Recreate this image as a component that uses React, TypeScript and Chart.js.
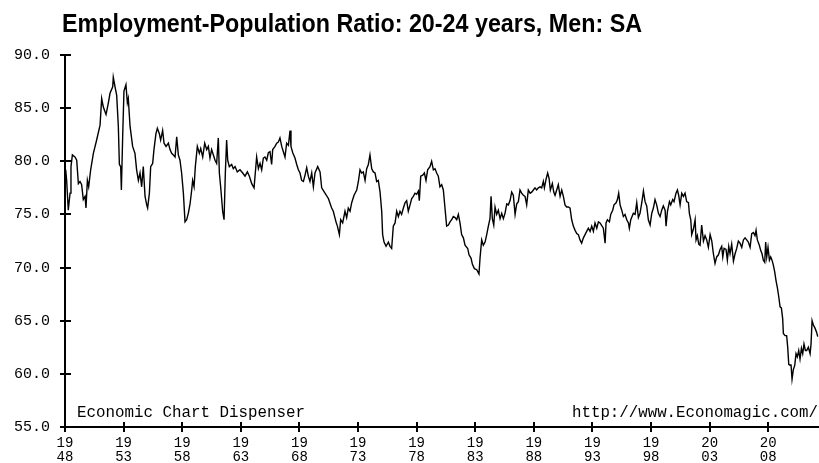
import React, { useEffect, useRef } from "react";
import { Chart, registerables } from "chart.js";

Chart.register(...registerables);

const chartTitle = "Employment-Population Ratio: 20-24 years, Men: SA";
const leftNote = "Economic Chart Dispenser";
const rightNote = "http://www.Economagic.com/";

const yTickValues = [55, 60, 65, 70, 75, 80, 85, 90];
const xTickYears = [1948, 1953, 1958, 1963, 1968, 1973, 1978, 1983, 1988, 1993, 1998, 2003, 2008];

// decimal year of each observation
const years = [
  1948.06, 1948.14, 1948.28, 1948.43, 1948.51, 1948.63, 1948.85, 1949.0, 1949.14, 1949.28,
  1949.42, 1949.56, 1949.71, 1949.79, 1949.91, 1950.02, 1950.19, 1950.42, 1950.7, 1950.99,
  1951.13, 1951.27, 1951.5, 1951.7, 1951.84, 1952.07, 1952.12, 1952.27, 1952.41, 1952.55,
  1952.64, 1952.75, 1952.81, 1952.92, 1953.03, 1953.2, 1953.32, 1953.4, 1953.55, 1953.77,
  1953.97, 1954.11, 1954.26, 1954.4, 1954.54, 1954.68, 1954.83, 1954.97, 1955.05, 1955.2,
  1955.31, 1955.48, 1955.59, 1955.76, 1955.88, 1956.05, 1956.16, 1956.33, 1956.45, 1956.62,
  1956.82, 1956.96, 1957.1, 1957.24, 1957.39, 1957.53, 1957.67, 1957.81, 1957.95, 1958.1,
  1958.24, 1958.38, 1958.52, 1958.67, 1958.81, 1958.89, 1959.01, 1959.12, 1959.29, 1959.46,
  1959.58, 1959.75, 1959.92, 1960.09, 1960.23, 1960.37, 1960.51, 1960.66, 1960.8, 1960.94,
  1961.08, 1961.17, 1961.28, 1961.37, 1961.45, 1961.57, 1961.68, 1961.79, 1961.88, 1962.02,
  1962.22, 1962.36, 1962.51, 1962.7, 1962.93, 1963.16, 1963.36, 1963.56, 1963.73, 1963.93,
  1964.13, 1964.35, 1964.5, 1964.64, 1964.78, 1964.92, 1965.06, 1965.21, 1965.35, 1965.49,
  1965.63, 1965.72, 1965.92, 1966.06, 1966.2, 1966.34, 1966.49, 1966.63, 1966.77, 1966.91,
  1967.06, 1967.2, 1967.28, 1967.43, 1967.62, 1967.77, 1967.91, 1968.05, 1968.19, 1968.34,
  1968.48, 1968.62, 1968.76, 1968.9, 1969.05, 1969.19, 1969.33, 1969.56, 1969.76, 1969.9,
  1970.18, 1970.47, 1970.75, 1970.89, 1971.12, 1971.24, 1971.41, 1971.52, 1971.69, 1971.89,
  1972.03, 1972.17, 1972.32, 1972.46, 1972.66, 1972.89, 1973.03, 1973.17, 1973.31, 1973.45,
  1973.6, 1973.74, 1973.88, 1974.02, 1974.17, 1974.31, 1974.45, 1974.59, 1974.73, 1974.88,
  1975.02, 1975.1, 1975.22, 1975.39, 1975.59, 1975.73, 1975.87, 1976.01, 1976.16, 1976.3,
  1976.44, 1976.58, 1976.72, 1976.87, 1977.01, 1977.15, 1977.29, 1977.44, 1977.58, 1977.72,
  1977.86, 1978.0, 1978.15, 1978.23, 1978.35, 1978.52, 1978.66, 1978.8, 1978.94, 1979.14,
  1979.28, 1979.43, 1979.57, 1979.71, 1979.85, 1979.99, 1980.14, 1980.28, 1980.42, 1980.56,
  1980.71, 1980.85, 1980.99, 1981.13, 1981.28, 1981.42, 1981.56, 1981.7, 1981.84, 1981.99,
  1982.13, 1982.36, 1982.47, 1982.64, 1982.76, 1982.93, 1983.13, 1983.32, 1983.41, 1983.55,
  1983.69, 1983.84, 1983.98, 1984.12, 1984.26, 1984.35, 1984.46, 1984.58, 1984.69, 1984.83,
  1984.97, 1985.12, 1985.26, 1985.4, 1985.54, 1985.69, 1985.83, 1985.97, 1986.11, 1986.25,
  1986.4, 1986.54, 1986.68, 1986.82, 1986.96, 1987.11, 1987.25, 1987.39, 1987.53, 1987.68,
  1987.82, 1987.96, 1988.1, 1988.24, 1988.39, 1988.53, 1988.67, 1988.81, 1988.9, 1989.04,
  1989.18, 1989.3, 1989.41, 1989.58, 1989.7, 1989.81, 1989.95, 1990.09, 1990.24, 1990.38,
  1990.52, 1990.66, 1990.8, 1990.95, 1991.09, 1991.23, 1991.37, 1991.52, 1991.66, 1991.8,
  1991.94, 1992.08, 1992.23, 1992.37, 1992.51, 1992.65, 1992.8, 1992.94, 1993.08, 1993.22,
  1993.37, 1993.51, 1993.65, 1993.93, 1994.08, 1994.16, 1994.28, 1994.45, 1994.56, 1994.73,
  1994.84, 1995.02, 1995.13, 1995.24, 1995.36, 1995.5, 1995.64, 1995.78, 1995.93, 1996.07,
  1996.15, 1996.27, 1996.38, 1996.49, 1996.64, 1996.78, 1996.92, 1997.06, 1997.21, 1997.35,
  1997.49, 1997.63, 1997.77, 1997.92, 1998.06, 1998.2, 1998.34, 1998.48, 1998.63, 1998.77,
  1998.91, 1999.05, 1999.2, 1999.28, 1999.4, 1999.57, 1999.68, 1999.85, 1999.96, 2000.13,
  2000.25, 2000.36, 2000.48, 2000.62, 2000.76, 2000.9, 2001.04, 2001.19, 2001.27, 2001.39,
  2001.47, 2001.61, 2001.76, 2001.84, 2001.95, 2002.07, 2002.18, 2002.32, 2002.47, 2002.61,
  2002.75, 2002.89, 2003.04, 2003.18, 2003.32, 2003.46, 2003.6, 2003.75, 2003.89, 2004.03,
  2004.12, 2004.23, 2004.4, 2004.51, 2004.63, 2004.74, 2004.88, 2005.03, 2005.17, 2005.31,
  2005.45, 2005.59, 2005.74, 2005.88, 2006.02, 2006.16, 2006.3, 2006.45, 2006.59, 2006.73,
  2006.87, 2006.96, 2007.07, 2007.24, 2007.36, 2007.47, 2007.58, 2007.7, 2007.78, 2007.87,
  2007.98, 2008.1, 2008.21, 2008.32, 2008.44, 2008.55, 2008.66, 2008.78, 2008.89, 2009.01,
  2009.12, 2009.23, 2009.29, 2009.43, 2009.57, 2009.66, 2009.75, 2009.86, 2009.94, 2010.03,
  2010.14, 2010.26, 2010.37, 2010.48, 2010.6, 2010.71, 2010.83, 2010.94, 2011.05, 2011.17,
  2011.28, 2011.42, 2011.57, 2011.65, 2011.74, 2011.85, 2011.99, 2012.13, 2012.22,
];

// employment-population ratio, percent
const ratios = [
  79.2, 78.2, 75.4, 77.0, 79.5, 80.6, 80.4, 80.1, 77.9, 78.1,
  77.8, 76.4, 76.7, 75.6, 78.2, 77.6, 79.2, 80.75, 82.0, 83.4,
  85.9, 85.1, 84.4, 85.5, 86.4, 87.0, 87.9, 87.0, 86.2, 83.3,
  79.7, 79.5, 77.3, 82.3, 86.6, 87.2, 85.5, 85.9, 83.3, 81.4,
  80.75, 79.2, 78.2, 78.9, 77.6, 79.5, 76.7, 75.9, 75.6, 77.0,
  79.5, 79.8, 81.1, 82.6, 83.1, 82.6, 82.0, 82.9, 81.7, 81.4,
  81.7, 81.1, 80.75, 80.6, 80.4, 82.3, 80.6, 80.1, 78.9, 77.0,
  74.3, 74.5, 75.1, 76.0, 77.3, 78.2, 77.6, 79.5, 81.4, 80.75,
  81.2, 80.4, 81.7, 81.1, 81.4, 80.3, 81.1, 80.6, 80.1, 79.8,
  82.2, 78.9, 77.6, 76.4, 75.3, 74.5, 78.9, 82.0, 80.1, 79.5,
  79.7, 79.3, 79.5, 79.0, 79.2, 78.9, 78.6, 79.0, 78.6, 77.9,
  77.5, 80.4, 79.3, 79.8, 79.2, 80.3, 80.4, 80.1, 80.8, 80.9,
  79.7, 81.1, 81.4, 81.7, 81.8, 82.2, 81.4, 80.9, 80.4, 81.7,
  81.5, 82.9, 81.4, 80.8, 80.3, 79.7, 79.2, 78.9, 78.2, 78.1,
  78.7, 79.4, 78.6, 78.1, 78.9, 77.6, 78.9, 79.5, 79.0, 77.5,
  77.0, 76.5, 75.6, 75.3, 74.3, 73.9, 73.1, 74.5, 74.2, 75.3,
  74.7, 75.6, 75.3, 76.1, 76.8, 77.3, 78.1, 79.2, 78.9, 79.0,
  78.2, 79.3, 79.7, 80.6, 79.3, 79.0, 78.9, 78.1, 78.2, 77.1,
  75.3, 73.1, 72.4, 72.0, 72.4, 72.0, 71.8, 73.9, 74.2, 75.3,
  74.8, 75.3, 75.0, 75.6, 76.1, 76.3, 75.3, 75.9, 76.5, 76.7,
  77.0, 76.9, 77.2, 76.3, 78.6, 78.7, 78.9, 78.2, 79.2, 79.5,
  80.0, 79.2, 79.3, 78.9, 78.6, 77.6, 77.8, 77.3, 75.6, 73.9,
  74.0, 74.3, 74.5, 74.8, 74.7, 74.5, 75.0, 74.2, 73.1, 72.8,
  72.1, 71.8, 71.2, 70.9, 70.3, 69.9, 69.8, 69.4, 70.9, 72.6,
  72.1, 72.4, 73.1, 73.9, 74.6, 76.7, 74.6, 74.0, 75.7, 75.0,
  75.4, 74.6, 75.1, 74.6, 75.1, 76.0, 75.9, 76.3, 77.1, 76.8,
  75.0, 76.0, 76.2, 77.3, 77.0, 76.8, 76.7, 75.9, 77.3, 77.0,
  77.1, 77.3, 77.5, 77.3, 77.5, 77.6, 77.5, 78.1, 77.5, 78.3,
  78.9, 78.4, 77.3, 77.9, 77.1, 76.8, 77.3, 77.8, 76.7, 77.3,
  76.7, 75.9, 75.7, 75.7, 75.6, 74.5, 73.9, 73.5, 73.2, 73.1,
  72.6, 72.3, 72.8, 73.1, 73.4, 73.7, 73.4, 73.9, 73.4, 74.2,
  73.7, 74.3, 74.2, 73.7, 72.3, 74.2, 74.5, 74.3, 75.0, 75.4,
  75.9, 76.1, 76.4, 77.0, 75.9, 75.4, 74.8, 75.0, 74.5, 74.2,
  73.7, 74.5, 74.8, 75.1, 75.0, 76.1, 74.7, 75.1, 76.1, 77.2,
  76.2, 75.8, 74.5, 74.0, 75.1, 75.6, 76.4, 75.9, 75.1, 74.8,
  75.4, 75.8, 75.4, 73.9, 75.3, 76.2, 75.9, 76.4, 76.2, 77.0,
  77.3, 76.8, 75.9, 77.0, 76.7, 77.0, 76.2, 76.1, 75.1, 74.5,
  73.1, 73.6, 74.5, 72.6, 73.0, 72.2, 72.1, 74.0, 72.5, 73.0,
  72.6, 71.9, 73.1, 72.5, 71.3, 70.4, 71.0, 71.2, 71.7, 72.0,
  71.0, 71.8, 71.7, 70.7, 72.0, 71.3, 72.2, 70.6, 71.3, 71.8,
  72.5, 72.3, 71.9, 72.6, 72.8, 72.6, 72.4, 71.9, 73.2, 73.3,
  73.0, 73.5, 72.6, 72.1, 71.6, 71.3, 70.7, 70.5, 72.4, 71.0,
  71.9, 70.7, 71.0, 70.7, 70.2, 69.6, 68.8, 68.1, 67.3, 66.3,
  66.2, 65.2, 63.8, 63.6, 63.6, 62.5, 60.9, 60.8, 60.9, 59.5,
  60.4, 60.8, 61.9, 61.6, 62.2, 61.4, 62.4, 61.9, 62.8, 62.2,
  62.2, 62.5, 61.9, 62.8, 65.0, 64.6, 64.3, 63.9, 63.5,
];

const monoFont = '"Liberation Mono", "DejaVu Sans Mono", monospace';

const decorPlugin = {
  id: "decor",
  afterDraw(chart: any) {
    const { ctx, chartArea: a, scales } = chart;
    ctx.save();
    ctx.strokeStyle = "#000";
    ctx.fillStyle = "#000";
    ctx.lineWidth = 2;
    // axes
    ctx.beginPath();
    ctx.moveTo(a.left, a.top);
    ctx.lineTo(a.left, a.bottom);
    ctx.lineTo(a.right, a.bottom);
    ctx.stroke();
    // crossing tick marks
    for (const v of yTickValues) {
      const py = Math.round(scales.y.getPixelForValue(v));
      ctx.beginPath();
      ctx.moveTo(a.left - 5, py);
      ctx.lineTo(a.left + 6, py);
      ctx.stroke();
    }
    for (const v of xTickYears) {
      const px = Math.round(scales.x.getPixelForValue(v));
      ctx.beginPath();
      ctx.moveTo(px, a.bottom - 5);
      ctx.lineTo(px, a.bottom + 5);
      ctx.stroke();
    }
    // title
    ctx.textBaseline = "alphabetic";
    ctx.textAlign = "left";
    ctx.font = 'bold 25px "Liberation Sans Narrow", "Liberation Sans", Arial, sans-serif';
    ctx.fillText(chartTitle, 62, 32, 580);
    // source notes
    ctx.font = "16px " + monoFont;
    ctx.fillText(leftNote, a.left + 12, a.bottom - 10, 228);
    ctx.textAlign = "right";
    ctx.fillText(rightNote, a.right - 1, a.bottom - 10, 246);
    ctx.restore();
  },
};

export default function App() {
  const ref = useRef<HTMLCanvasElement | null>(null);

  useEffect(() => {
    if (!ref.current) return;
    const points = years.map((x, i) => ({ x, y: ratios[i] }));
    const chart = new Chart(ref.current, {
      type: "line",
      data: {
        datasets: [
          {
            data: points,
            borderColor: "#000",
            borderWidth: 1.4,
            pointRadius: 0,
            tension: 0,
            fill: false,
          },
        ],
      },
      options: {
        animation: false,
        responsive: false,
        maintainAspectRatio: false,
        layout: { padding: { top: 55, left: 0, right: 0, bottom: 0 } },
        plugins: {
          legend: { display: false },
          tooltip: { enabled: false },
          title: { display: false },
        },
        scales: {
          x: {
            type: "linear",
            min: 1948,
            max: 2012.33,
            grid: { display: false, drawTicks: false },
            border: { display: false },
            afterBuildTicks: (s: any) => {
              s.ticks = xTickYears.map((v) => ({ value: v }));
            },
            afterFit: (s: any) => {
              s.height = 36;
            },
            ticks: {
              autoSkip: false,
              maxRotation: 0,
              minRotation: 0,
              padding: 9,
              color: "#000",
              font: { family: monoFont, size: 14, lineHeight: 1 },
              callback: (v: any) => {
                const s = String(v);
                return [s.slice(0, 2), s.slice(2)];
              },
            },
          },
          y: {
            min: 55,
            max: 90,
            grid: { display: false, drawTicks: false },
            border: { display: false },
            afterBuildTicks: (s: any) => {
              s.ticks = yTickValues.map((v) => ({ value: v }));
            },
            afterFit: (s: any) => {
              s.width = 65;
            },
            ticks: {
              padding: 15,
              color: "#000",
              font: { family: monoFont, size: 15 },
              callback: (v: any) => Number(v).toFixed(1),
            },
          },
        },
      },
      plugins: [decorPlugin],
    } as any);
    return () => chart.destroy();
  }, []);

  return (
    <div style={{ position: "fixed", left: 0, top: 0, width: 819, height: 463, background: "#fff" }}>
      <canvas ref={ref} width={819} height={463} style={{ display: "block" }} />
    </div>
  );
}
